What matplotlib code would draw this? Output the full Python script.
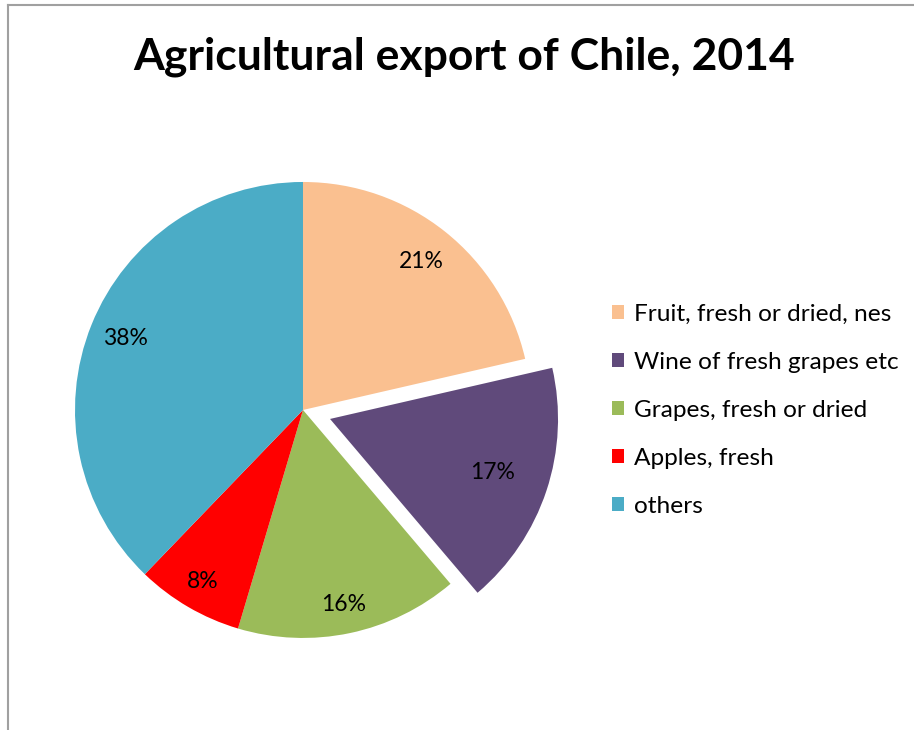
import numpy as np
import matplotlib.pyplot as plt

plt.rcParams['font.family'] = ['Lato', 'DejaVu Sans']

# Datos del gráfico
categories = ['Fruit, fresh or dried, nes', 'Wine of fresh grapes etc',
              'Grapes, fresh or dried', 'Apples, fresh', 'others']
shares = [21.4, 17.4, 15.8, 7.6, 37.8]
colors = ['#FAC090', '#604A7B', '#9BBB59', '#FF0000', '#4BACC6']
explode = [0, 0.125, 0, 0, 0]
label_dist = [0.83, 0.75, 0.87, 0.87, 0.84]


def main():
    fig = plt.figure(figsize=(9.14, 7.30), dpi=100)
    ax = fig.add_axes([0.0197, 0.048, 0.6236, 0.7808])

    wedges, texts, autotexts = ax.pie(
        shares, colors=colors, explode=explode, startangle=90,
        counterclock=False, autopct='%1.0f%%', pctdistance=0.82,
        textprops={'fontsize': 16.5, 'color': 'black'})

    # Ajusta la distancia de cada etiqueta al centro de su sector
    for w, t, d in zip(wedges, autotexts, label_dist):
        ang = np.deg2rad((w.theta1 + w.theta2) / 2)
        cx, cy = w.center
        t.set_position((cx + d * np.cos(ang), cy + d * np.sin(ang)))

    ax.set_xlim(-1.25, 1.25)
    ax.set_ylim(-1.25, 1.25)
    ax.set_aspect('equal')
    ax.axis('off')

    fig.text(0.508, 0.922, 'Agricultural export of Chile, 2014',
             ha='center', va='center', fontsize=32, fontweight='bold')

    fig.legend(wedges, categories, loc='center left',
               bbox_to_anchor=(0.6455, 0.438), frameon=False, fontsize=17.6,
               handlelength=0.5, handleheight=0.5, handletextpad=0.4,
               labelspacing=1.1)

    # Borde gris del área del gráfico
    fig.add_artist(plt.Line2D([0.009, 1.0], [0.993, 0.993],
                              color='#a0a0a0', lw=1.5))
    fig.add_artist(plt.Line2D([0.009, 0.009], [0.0, 0.993],
                              color='#a0a0a0', lw=1.5))

    fig.savefig('out.png', dpi=100)


if __name__ == "__main__":
    main()
